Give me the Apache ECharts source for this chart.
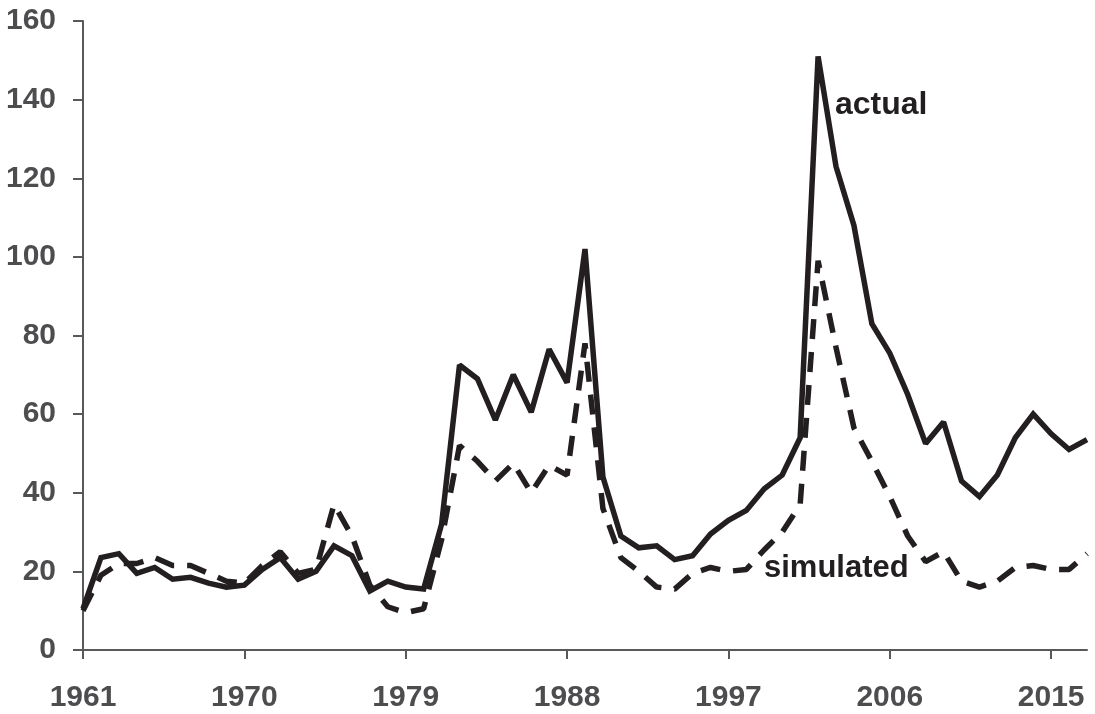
<!DOCTYPE html>
<html>
<head>
<meta charset="utf-8">
<title>actual vs simulated</title>
<script src="https://cdn.jsdelivr.net/npm/echarts@6/dist/echarts.min.js"></script>
<style>
    html, body { margin: 0; padding: 0; background: #fff; }
    #chart { width: 1095px; height: 714px; }
</style>
</head>
<body>
<div id="chart"></div>
<script>
//--------------------------------
// Data
//--------------------------------
const years = [];
for (let y = 1961; y <= 2017; y++) years.push(String(y));

const actual = [
    10.5, 23.5, 24.5, 19.5, 21, 18, 18.5, 17, 16, 16.5,
    20.5, 23.5, 18, 20, 26.5, 24, 15, 17.5, 16, 15.5,
    32, 72.5, 69, 58.5, 70, 60.5, 76.5, 68, 102, 44,
    29, 26, 26.5, 23, 24, 29.5, 33, 35.5, 41, 44.5,
    54, 151, 123, 108, 83, 75.5, 65, 52.5, 58, 43,
    39, 44.5, 54, 60, 55, 51, 53.5
];

const simulated = [
    10, 19, 22, 22, 23.5, 21.5, 21.5, 19.5, 17.5, 17,
    21.5, 25, 19.5, 20.5, 37, 29, 16.5, 11, 9.5, 10.5,
    28, 52, 48, 43, 47.5, 40, 47, 44.5, 78, 36,
    23.5, 20, 16, 15.5, 19.5, 21, 20, 20.5, 25.5, 30,
    37, 99, 77, 56.5, 48, 39, 29, 22.5, 25, 17.5,
    16, 17.5, 21, 21.5, 20.5, 20.5, 24.5
];

//--------------------------------
// Chart
//--------------------------------
const axisColor = '#58595b';
const labelColor = '#4d4d4f';
const lineColor = '#231f20';
const font = "'Liberation Sans', Arial, sans-serif";

var myChart = echarts.init(document.getElementById('chart'));

let options = {
    animation: false,
    backgroundColor: '#fff',
    grid: {
        left: 83,
        right: 8,
        top: 21,
        bottom: 64,
        containLabel: false
    },
    xAxis: {
        type: 'category',
        data: years,
        boundaryGap: false,
        axisLine: { lineStyle: { color: axisColor, width: 2 } },
        axisTick: {
            interval: 8,
            length: 9,
            lineStyle: { color: axisColor, width: 2 }
        },
        axisLabel: {
            interval: 8,
            margin: 33,
            color: labelColor,
            fontFamily: font,
            fontWeight: 'bold',
            fontSize: 30
        },
        splitLine: { show: false }
    },
    yAxis: {
        type: 'value',
        min: 0,
        max: 160,
        interval: 20,
        axisLine: { show: true, lineStyle: { color: axisColor, width: 2 } },
        axisTick: {
            show: true,
            length: 10,
            lineStyle: { color: axisColor, width: 2 }
        },
        axisLabel: {
            margin: 27,
            color: labelColor,
            fontFamily: font,
            fontWeight: 'bold',
            fontSize: 30
        },
        splitLine: { show: false }
    },
    series: [
        {
            name: 'actual',
            type: 'line',
            data: actual,
            showSymbol: false,
            lineStyle: { color: lineColor, width: 5.5, join: 'miter', miterLimit: 2 }
        },
        {
            name: 'simulated',
            type: 'line',
            data: simulated,
            showSymbol: false,
            lineStyle: { color: lineColor, width: 5.5, type: [20, 13], miterLimit: 2 }
        }
    ],
    graphic: [
        {
            type: 'text',
            left: 835,
            top: 89,
            style: {
                text: 'actual',
                fill: lineColor,
                font: 'bold 32px ' + font
            }
        },
        {
            type: 'text',
            left: 764,
            top: 553,
            style: {
                text: 'simulated',
                fill: lineColor,
                font: 'bold 31px ' + font
            }
        }
    ]
};
myChart.setOption(options);
</script>
</body>
</html>
